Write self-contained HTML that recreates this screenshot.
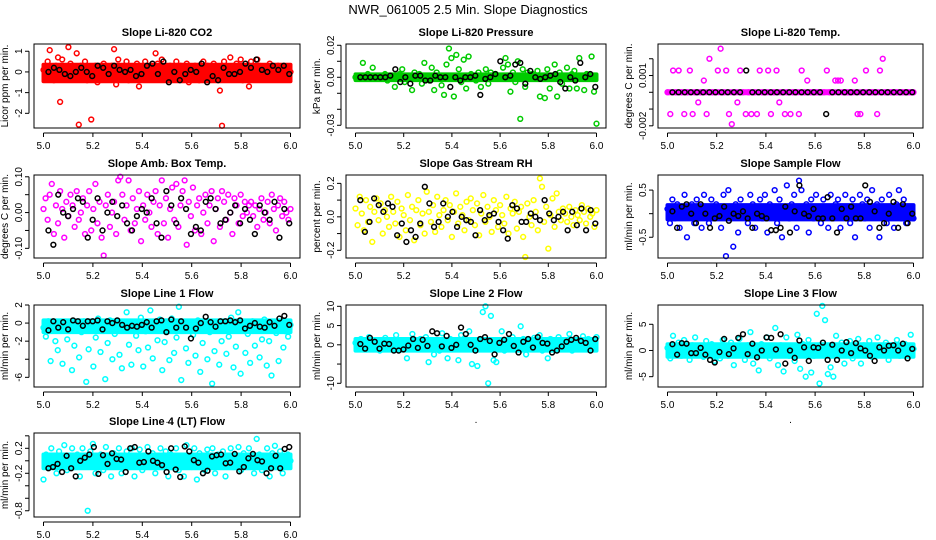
<!DOCTYPE html>
<html><head><meta charset="utf-8"><style>
html,body{margin:0;padding:0;background:#fff;}
svg{display:block;font-family:"Liberation Sans",Arial,sans-serif;}
</style></head><body>
<svg id="chart" width="936" height="540" viewBox="0 0 936 540">
<text x="468" y="14" font-size="13" text-anchor="middle">NWR_061005  2.5 Min. Slope Diagnostics</text>
</svg>
<script>
// x-axis ticks (shared)
const xTicks = [5.0, 5.2, 5.4, 5.6, 5.8, 6.0];
const xTickLabels = ["5.0", "5.2", "5.4", "5.6", "5.8", "6.0"];
// panel titles / y labels
const titles = ["Slope Li-820 CO2","Slope Li-820 Pressure","Slope Li-820 Temp.","Slope Amb. Box Temp.","Slope Gas Stream RH","Slope Sample Flow","Slope Line 1 Flow","Slope Line 2 Flow","Slope Line 3 Flow","Slope Line 4 (LT) Flow"];
const yLabels = ["Licor ppm per min.","kPa per min.","degrees C per min.","degrees C per min.","percent per min.","ml/min per min.","ml/min per min.","ml/min per min.","ml/min per min.","ml/min per min."];
// y ticks per panel
const yTicks1 = [1,0,-1,-2];            const yTickLabels1 = ["1","0","-1","-2"];
const yTicks2 = [0.02,0.01,0,-0.01,-0.02,-0.03]; const yTickLabels2 = ["0.02","","0.00","","","-0.03"];
const yTicks3 = [0.002,0.001,0,-0.001,-0.002]; const yTickLabels3 = ["","0.001","","","-0.002"];
const yTicks4 = [0.10,0.05,0,-0.05,-0.10]; const yTickLabels4 = ["0.10","","0.00","","-0.10"];
const yTicks5 = [0.2,0.1,0,-0.1,-0.2];  const yTickLabels5 = ["0.2","","0.0","","-0.2"];
const yTicks6 = [0.5,0,-0.5];           const yTickLabels6 = ["0.5","","-0.5"];
const yTicks7 = [2,0,-2,-4,-6];         const yTickLabels7 = ["2","0","-2","","-6"];
const yTicks8 = [10,5,0,-5,-10];        const yTickLabels8 = ["10","5","0","","-10"];
const yTicks9 = [5,0,-5];               const yTickLabels9 = ["5","0","-5"];
const yTicks10 = [0.4,0.2,0,-0.2,-0.4,-0.6,-0.8]; const yTickLabels10 = ["","0.2","","-0.2","","","-0.8"];
// y domains (value at box top, value at box bottom)
const yDomain1 = [1.35,-2.71]; const yDomain2 = [0.0208,-0.0317]; const yDomain3 = [0.00288,-0.00213];
const yDomain4 = [0.105,-0.127]; const yDomain5 = [0.25,-0.246]; const yDomain6 = [0.82,-0.94];
const yDomain7 = [2.0,-7.07]; const yDomain8 = [10.34,-10.96]; const yDomain9 = [8.68,-6.97]; const yDomain10 = [0.445,-0.9];
// dense-core range of the bulk of samples per panel [high, low] (null = no solid core)
const core1 = [0.35,-0.45]; const core2 = [0.0018,-0.0018]; const core3 = [0.00006,-0.00006];
const core4 = null; const core5 = null; const core6 = [0.18,-0.12];
const core7 = [0.3,-1.0]; const core8 = [1.5,-1.5]; const core9 = [1.2,-1.2]; const core10 = [0.1,-0.12];

// series values (colored = all samples, black = flagged samples), in time order 5.0 -> 6.0
const colored1 = [0.1,-0.3,0.5,1.05,0.2,-0.4,0.3,0.7,-1.45,0.6,0.0,-0.2,1.2,0.4,-0.3,0.1,0.9,-2.55,0.3,-0.1,0.5,-0.4,0.2,-2.3,0.1,0.3,-0.5,0.2,0.0,0.4,-0.3,0.1,-0.2,0.3,1.1,-0.6,0.6,0.2,-0.1,0.3,0.5,-0.4,0.1,0.2,-0.3,0.4,-0.7,0.0,0.2,0.5,-0.2,0.1,0.3,-0.1,0.9,0.4,-0.3,0.6,0.2,0.0,-0.4,0.3,0.1,-0.2,0.5,0.0,0.3,-0.3,0.2,0.4,-0.5,0.1,-0.2,0.3,0.0,-0.4,0.2,0.5,-0.1,0.3,-0.3,0.1,0.4,-0.2,0.0,-0.9,-2.6,0.5,0.2,-0.3,0.7,0.1,-0.2,0.4,0.0,0.6,-0.4,0.2,0.3,-0.7,0.5,0.1,-0.2,0.6,0.3,-0.3,0.1,0.2,-0.1,0.4,0.2,-0.2,0.1,0.3,-0.3,0.0,0.2,-0.1,0.1,0.0];
const black1 = [0,0.2,0.1,-0.1,-0.2,0,0.2,0,-0.2,0.3,0.2,-0.1,0.3,0.1,0,0.1,-0.2,-0.1,0.3,0.4,-0.1,0.5,-0.5,0,-0.4,-0.1,0.1,0,0.4,-0.5,-0.2,-0.4,0.2,-0.1,-0.1,0,0.4,0.2,0.6,0.1,0,0.3,0.1,0.3,-0.1];
const colored2 = [0,-0.001,0.001,0.009,0,0.002,-0.001,0.006,0,0.001,-0.001,0,0.002,-0.002,0,0.001,-0.006,0,0.002,0.005,-0.003,0,0.001,-0.008,0.003,0,0.002,-0.004,0.009,0,-0.002,0.006,-0.008,0.003,0.001,-0.005,-0.011,0.008,0.018,0.012,-0.012,0.014,0.005,-0.003,0.011,-0.007,0.013,0.002,0,-0.002,0.003,-0.006,0.001,0.005,-0.004,0.003,0,0.002,-0.001,0,0.006,0.012,0.008,-0.009,0.003,-0.003,0.01,-0.026,0.005,-0.006,0.003,0,0.002,-0.001,0.004,-0.012,0.001,-0.013,0.005,-0.007,0,0.008,-0.012,0.003,-0.004,0,0.006,-0.007,0.002,0.004,-0.007,0.012,0,-0.008,0.002,0.001,0.013,-0.009,-0.029];
const black2 = [0,0,0,0,0,0,0.001,0.005,-0.003,0,-0.004,0.001,0.001,-0.002,-0.002,0.001,0,0,-0.006,0,-0.002,0,0,0.001,-0.011,-0.001,0,0.002,0.01,0,0.001,0.008,0.009,-0.004,0.004,0,-0.001,0,0.001,0.002,-0.003,-0.007,0,-0.002,0.009,0,0.002,-0.006];
const colored3 = [0,-0.0013,0.0013,0,0.0013,0,-0.0013,0,0.0013,-0.0013,0,-0.0006,0,0.0007,-0.0013,0.002,0,0,0.0013,0.0026,0,0.0013,-0.0013,-0.0019,0,-0.0006,0.0013,0,-0.0013,0,-0.0013,0,-0.0013,0.0013,0,0,0.0013,-0.0013,0,0.0013,-0.0006,0,-0.0013,0,-0.0013,0,0,-0.0013,0.0013,0,0.0007,0,0,0,0,0,0,0.0013,0,0,0.0007,0.0007,0.0007,0,0,0,0,0.0007,-0.0013,-0.0013,0,0.0013,0,0,0,-0.0013,0.0013,0.002,0,0,0,0,0,0,0,0,0,0,0];
const black3 = [0,0,0,0,0,0,0,0,0,0,0,0,0.0013,0,0,0,0,0,0,0,0,0,0,0,0,-0.0013,0,0,0,0,0,0,0,0,0,0,0,0,0,0];
const colored4 = [0.01,0.04,-0.02,0.05,0.08,-0.06,0.02,-0.03,0.06,0.01,-0.07,0.03,-0.01,0.05,0.02,-0.04,0.06,-0.02,0.00,0.04,-0.06,0.02,0.06,-0.05,0.01,0.08,-0.03,0.03,-0.07,-0.12,0.02,0.05,-0.04,0.00,0.03,-0.06,0.09,0.10,0.05,-0.02,0.02,0.09,-0.05,0.04,-0.03,0.01,0.06,-0.08,0.02,-0.02,0.05,0.00,-0.04,0.03,0.06,-0.06,0.02,0.09,-0.03,0.04,-0.07,0.01,0.07,-0.02,0.08,-0.04,0.02,0.06,0.09,-0.09,0.03,-0.01,0.07,-0.05,0.02,0.04,-0.06,0.00,0.05,-0.03,0.02,0.06,-0.08,0.01,0.04,-0.04,0.06,0.03,-0.02,0.05,0.00,-0.06,0.04,0.02,-0.03,0.05,-0.01,0.03,0.00,0.02,0.03,-0.01,0.02,-0.04,0.01,0.04,-0.02,0.00,0.03,-0.03,0.05,0.01,-0.05,0.02,0.04,-0.01,0.03,0.00,-0.02,0.01];
const black4 = [-0.05,-0.09,0.05,0.00,-0.01,0.01,0.04,0.03,-0.07,-0.02,0.04,-0.05,0.00,0.03,-0.01,0.02,-0.03,-0.05,-0.01,0.01,0.00,0.04,-0.03,-0.07,0.06,0.02,-0.03,0.04,0.01,-0.06,-0.04,-0.05,0.03,0.04,0.01,-0.03,-0.02,0.00,0.02,-0.03,0.01,-0.02,-0.06,0.02,0.00,-0.02,0.03,-0.07,0.01,-0.03];
const colored5 = [0.05,-0.05,0.12,0.02,-0.08,0.10,-0.03,0.06,-0.15,0.03,0.11,-0.02,0.08,-0.10,0.04,0.00,-0.06,0.12,0.03,-0.04,0.09,-0.12,0.05,0.01,-0.08,0.13,-0.02,0.06,-0.14,0.04,0.10,-0.05,0.02,-0.10,0.15,0.03,-0.03,0.07,-0.09,0.12,0.01,-0.06,0.04,0.10,-0.02,0.07,-0.12,0.03,0.14,-0.04,0.06,0.01,-0.08,0.09,-0.02,0.11,0.04,-0.05,0.08,-0.11,0.02,0.13,-0.03,0.06,0.00,-0.09,0.10,0.04,-0.06,0.07,0.01,-0.04,0.12,-0.10,0.05,0.02,0.09,-0.07,0.03,0.06,-0.12,-0.24,0.08,0.00,-0.05,0.10,0.03,-0.08,0.23,0.18,-0.03,0.06,-0.19,0.01,0.11,-0.06,0.14,0.03,-0.02,0.05,0.02,-0.03,0.06,0.00,-0.05,0.04,0.01,-0.02,0.07,0.03,-0.04,0.05,0.00,0.02,-0.06,0.04];
const black5 = [0.10,-0.09,-0.03,0.11,0.07,0.03,0.08,0.06,-0.11,-0.04,-0.15,-0.08,-0.12,-0.04,0.18,0.08,-0.06,-0.03,0.08,0.00,0.03,-0.06,0.00,-0.02,-0.03,-0.11,0.04,-0.02,0.01,0.02,-0.03,-0.08,-0.13,0.07,0.05,-0.03,-0.03,0.02,0.00,-0.02,0.10,0.02,-0.02,0.00,0.03,-0.08,0.03,-0.05,0.05,-0.08,0.04,-0.04];
const colored6 = [0.1,-0.2,0.3,-0.1,0.2,-0.3,0.0,0.4,-0.5,0.1,0.2,-0.2,0.3,0.0,-0.3,0.4,0.1,-0.2,0.3,-0.1,0.2,0.0,-0.3,0.4,-0.9,0.5,-0.1,-0.7,0.2,-0.4,0.3,0.0,0.1,-0.2,0.4,0.2,-0.3,0.1,0.3,-0.1,0.4,-0.4,0.2,0.0,0.5,-0.2,0.3,-0.5,0.1,0.6,-0.1,0.2,0.4,-0.3,0.7,0.5,0.0,0.2,-0.4,0.3,-0.1,0.4,0.1,-0.2,0.3,0.0,-0.3,0.4,-0.1,0.2,0.3,-0.3,0.1,0.4,0.0,-0.2,0.3,-0.5,0.1,0.4,0.2,-0.1,0.3,-0.3,0.5,0.0,0.2,-0.5,0.3,0.1,-0.2,0.4,0.0,-0.3,0.2,0.5,-0.1,0.3,-0.2,0.1,0.0,-0.1];
const black6 = [0.05,-0.3,0.15,0.2,0.0,-0.2,0.2,0.0,-0.3,-0.1,-0.05,0.15,-0.15,0.0,-0.05,0.05,-0.1,-0.3,0.0,-0.05,-0.1,-0.35,-0.35,-0.3,0.15,-0.4,0.05,0.6,0.0,-0.05,0.1,-0.1,-0.1,0.35,-0.1,-0.4,0.1,-0.1,0.15,-0.1,-0.1,0.6,0.25,0.05,-0.3,-0.2,0.0,0.25,-0.3,0.2,-0.2,0.0];
const colored7 = [-0.5,-1.5,0.2,-4.2,-0.3,-2.0,-3.0,0.1,-4.5,-0.8,-1.8,0.0,-5.2,-2.5,-0.5,-3.8,-1.0,0.2,-6.5,-2.9,-0.2,-4.8,-1.6,0.5,-3.2,-0.4,-6.2,-2.2,0.3,-4.0,-1.2,-0.1,-3.5,-5.0,-0.6,1.2,-2.4,-4.6,0.0,-1.4,-3.0,0.6,-4.8,-0.9,-2.7,1.4,-3.9,-0.3,-1.9,0.4,-5.2,-2.1,-0.7,-4.1,0.5,-3.3,-1.6,1.8,-6.3,-0.2,-2.8,-4.4,-0.5,-1.3,-3.6,0.3,-5.4,-2.2,-0.6,-4.0,-1.0,-6.7,-3.1,0.0,-4.6,-2.0,-0.4,-3.4,-1.5,0.6,-4.9,-2.6,1.2,-5.6,-0.8,-3.3,-1.2,-4.4,0.2,-2.5,-0.3,-3.8,-1.8,0.4,-4.7,-2.0,-5.8,-0.5,-1.1,-4.2,0.0,-2.7,-0.9,-1.5,-0.2];
const black7 = [-0.8,0.2,-0.5,0.1,-0.7,0.3,0.2,-0.3,0.2,0.2,0.3,-0.7,0.2,0.0,0.3,-0.2,-0.5,-0.3,-0.4,-0.2,0.1,-0.5,0.2,0.3,-1.0,0.4,-0.5,0.2,-0.5,-1.7,-0.6,0.0,0.7,0.1,-0.4,0.2,0.2,0.3,0.1,0.3,-0.6,-0.3,0.0,-0.4,-0.5,0.1,-0.3,0.5,0.8,-0.2];
const colored8 = [0.5,-0.8,1.5,0.2,-1.2,2.0,0.0,-0.5,1.0,-1.5,0.5,1.8,-0.3,0.8,-1.0,2.5,0.3,-0.6,1.2,-3.5,0.0,2.8,-1.0,0.5,1.5,-0.8,2.0,-4.5,0.6,-2.5,1.0,-1.5,3.0,0.2,-3.5,1.5,-0.5,0.8,-4.0,2.5,-1.0,0.5,3.5,-5.0,1.0,-5.5,0.0,8.5,10.0,-10.0,7.5,-4.0,-4.5,0.5,3.5,-1.5,1.0,-0.5,2.0,0.0,-1.0,4.8,1.5,-2.5,0.3,-1.0,1.8,-0.5,2.5,-1.5,0.8,-3.5,1.5,0.0,-1.0,2.0,0.5,-0.8,1.2,2.8,-1.5,0.3,1.0,-0.6,2.2,0.0,1.5,-1.2,0.5,2.0];
const black8 = [0.2,-1.0,1.8,0.8,-1.0,0.3,0.2,-1.5,-1.5,-1.2,-0.2,1.5,-0.8,1.3,-0.3,3.5,3.0,-0.4,2.3,-0.8,0.0,4.5,2.8,0.0,-1.5,1.5,2.0,1.0,-2.5,0.5,1.3,2.8,-0.3,-2.0,0.8,1.5,-0.7,2.0,0.5,0.3,-2.0,-1.5,-0.4,0.8,1.3,1.8,1.0,0.5,-1.5,1.5];
const colored9 = [0.5,-1.5,2.8,-0.5,1.5,-1.0,2.0,0.0,-1.8,1.0,2.5,-0.8,0.5,-1.2,1.8,-0.3,1.2,-2.0,0.8,-1.5,2.0,0.3,-1.0,1.5,-2.8,0.5,2.2,-0.5,-1.8,1.0,3.5,-2.5,0.3,-3.8,1.2,-0.8,2.5,-1.5,0.0,4.3,-2.8,1.0,-4.0,2.5,-1.0,0.5,-2.0,3.0,-3.5,1.2,-5.0,2.0,-4.2,-1.0,7.0,-6.3,8.5,5.8,-4.5,-3.2,-5.0,2.8,-1.0,1.5,-2.5,0.3,1.8,-1.5,0.5,2.2,-2.5,1.0,-0.5,1.8,-1.2,0.8,2.5,-0.8,0.3,1.5,-1.8,1.0,-0.3,2.0,-1.0,0.5,1.2,-0.8,3.0,0.3];
const black9 = [1.2,-0.8,1.4,1.3,-0.5,-0.5,0.5,-0.8,-1.8,-2.3,-0.3,2.2,-0.7,0.4,2.4,3.1,-0.7,1.3,-1.3,0.0,2.5,2.4,0.2,3.1,-2.5,0.0,-1.4,1.9,0.6,-2.0,0.6,0.5,1.5,-1.8,1.1,-1.8,0.0,1.6,-0.5,1.4,0.4,0.0,-1.0,-2.0,0.6,0.0,0.9,1.0,0.0,1.3,-1.5,0.3];
const colored10 = [-0.3,0.1,-0.1,0.2,0.0,-0.2,0.15,-0.05,0.25,-0.15,0.05,0.2,-0.1,0.1,-0.25,0.2,0.0,-0.8,0.15,0.27,-0.2,0.05,0.1,-0.15,0.22,0.0,-0.25,0.12,-0.05,0.2,-0.2,0.08,0.15,-0.1,0.2,-0.25,0.05,0.18,-0.15,0.0,0.22,-0.1,0.12,-0.2,0.05,0.2,-0.05,0.15,-0.25,0.1,0.0,0.2,-0.15,0.08,-0.25,0.25,0.05,-0.1,0.2,-0.3,0.12,0.0,-0.15,0.18,-0.05,0.2,-0.2,0.1,0.0,0.15,-0.25,0.08,0.2,-0.1,0.05,0.22,-0.15,0.12,-0.05,0.2,0.0,-0.2,0.35,0.1,-0.15,0.05,0.2,-0.25,0.12,0.24,-0.05,0.15,-0.2,0.05,0.1,0.0];
const black10 = [-0.12,-0.1,-0.05,-0.18,0.08,-0.12,-0.25,0.0,0.05,0.1,0.22,-0.21,0.09,-0.05,0.12,0.03,0.02,-0.18,0.2,0.22,-0.03,-0.02,0.15,0.0,-0.03,-0.07,-0.18,0.2,-0.14,-0.26,0.23,0.15,0.01,-0.03,-0.2,-0.16,0.07,0.09,0.1,-0.04,-0.03,0.11,-0.17,-0.1,0.04,0.11,0.01,-0.01,-0.2,-0.12,0.08,-0.12,0.19,0.22];

const panels = [
 {col:0,row:0,color:"#ff0000",c:colored1,b:black1,t:yTicks1,tl:yTickLabels1,d:yDomain1,core:core1},
 {col:1,row:0,color:"#00cc00",c:colored2,b:black2,t:yTicks2,tl:yTickLabels2,d:yDomain2,core:core2},
 {col:2,row:0,color:"#ff00ff",c:colored3,b:black3,t:yTicks3,tl:yTickLabels3,d:yDomain3,core:core3},
 {col:0,row:1,color:"#ff00ff",c:colored4,b:black4,t:yTicks4,tl:yTickLabels4,d:yDomain4,core:core4},
 {col:1,row:1,color:"#ffff00",c:colored5,b:black5,t:yTicks5,tl:yTickLabels5,d:yDomain5,core:core5},
 {col:2,row:1,color:"#0000ff",c:colored6,b:black6,t:yTicks6,tl:yTickLabels6,d:yDomain6,core:core6},
 {col:0,row:2,color:"#00ffff",c:colored7,b:black7,t:yTicks7,tl:yTickLabels7,d:yDomain7,core:core7},
 {col:1,row:2,color:"#00ffff",c:colored8,b:black8,t:yTicks8,tl:yTickLabels8,d:yDomain8,core:core8},
 {col:2,row:2,color:"#00ffff",c:colored9,b:black9,t:yTicks9,tl:yTickLabels9,d:yDomain9,core:core9},
 {col:0,row:3,color:"#00ffff",c:colored10,b:black10,t:yTicks10,tl:yTickLabels10,d:yDomain10,core:core10}
];
const colX = [[34,300],[346,606],[658,923]];
const rowY = [[44,128],[175,258],[305,387],[433,517]];
const NS = "http://www.w3.org/2000/svg";
const svg = document.getElementById('chart');
function mk(tag, attrs, parent){const e=document.createElementNS(NS,tag);for(const k in attrs)e.setAttribute(k,attrs[k]);(parent||svg).appendChild(e);return e;}

panels.forEach((p,i)=>{
  const [L,R]=colX[p.col], [T,B]=rowY[p.row];
  const xs = v => (L+9.5) + (v-5)*((R-9.5)-(L+9.5));
  const ys = v => T + (v-p.d[0])/(p.d[1]-p.d[0])*(B-T);
  const g = mk('g',{});
  
  
  const title = mk('text',{x:(L+R)/2,y:T-8,'font-size':11,'font-weight':'bold','text-anchor':'middle'},g);
  title.textContent = titles[i];
  
  
  if(p.core){
    const y1=ys(p.core[0]), y2=ys(p.core[1]);
    const band=mk('rect',{x:xs(5)-2,y:y1-2,width:xs(6)-xs(5)+4,height:Math.max(y2-y1+4,3),fill:p.color,rx:2},g);
    
    
  }
  const n=p.c.length;
  p.c.forEach((v,k)=>{
    const c=mk('circle',{cx:xs(5+k/(n-1)),cy:ys(v),r:2.4,fill:'none',stroke:p.color,'stroke-width':1.5},g);
    
    
  });
  const m=p.b.length;
  p.b.forEach((v,k)=>{
    const c=mk('circle',{cx:xs(5.02+0.975*k/(m-1)),cy:ys(v),r:2.4,fill:'none',stroke:'#000','stroke-width':1.5},g);
    
    
  });
  const box = mk('rect',{x:L,y:T,width:R-L,height:B-T,fill:'none',stroke:'#000','stroke-width':1},g);
  
  
  const ax = mk('line',{x1:xs(5),x2:xs(6),y1:B+5,y2:B+5,stroke:'#000'},g);
  
  
  xTicks.forEach((v,k)=>{
    mk('line',{x1:xs(v),x2:xs(v),y1:B+5,y2:B+9,stroke:'#000'},g);
    const t=mk('text',{x:xs(v),y:B+21,'font-size':10,'text-anchor':'middle'},g);
    t.textContent=xTickLabels[k];
    
    
  });
  const ay = mk('line',{x1:L-5,x2:L-5,y1:ys(p.t[0]),y2:ys(p.t[p.t.length-1]),stroke:'#000'},g);
  
  
  p.t.forEach((v,k)=>{
    mk('line',{x1:L-9,x2:L-5,y1:ys(v),y2:ys(v),stroke:'#000'},g);
    if(p.tl[k]){
      const t=mk('text',{x:0,y:0,'font-size':10,'text-anchor':'middle',transform:`translate(${L-12},${ys(v)}) rotate(-90)`},g);
      t.textContent=p.tl[k];
      
      
    }
  });
  const yl=mk('text',{x:0,y:0,'font-size':10,'text-anchor':'middle',transform:`translate(${L-26},${(T+B)/2}) rotate(-90)`},g);
  yl.textContent=yLabels[i];
  
  
  const dot=mk('text',{x:(L+R)/2,y:B+36,'font-size':10,'text-anchor':'middle'},g);
  dot.textContent='.';
  
  
});
</script>
</body></html>
